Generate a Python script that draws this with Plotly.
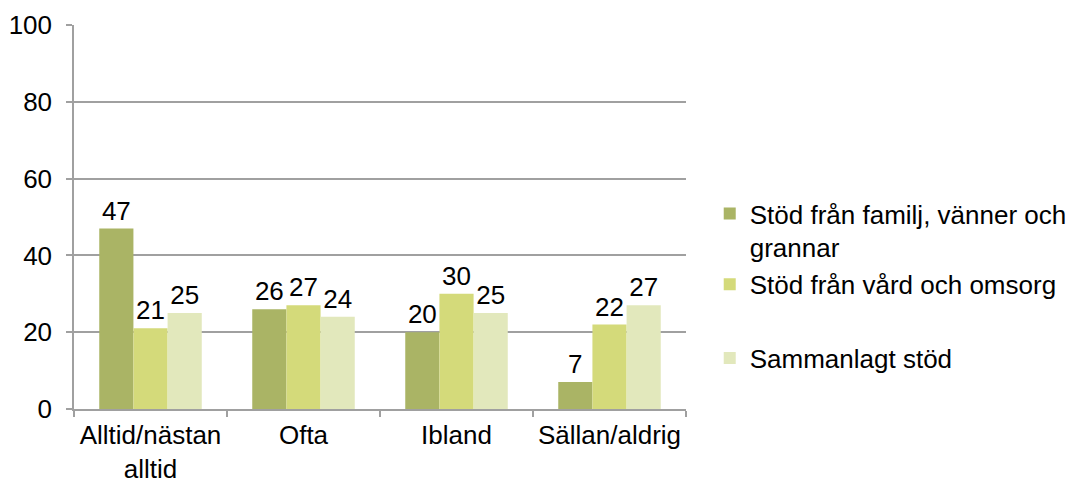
import plotly.graph_objects as go

categories = ["Alltid/nästan<br>alltid", "Ofta", "Ibland", "Sällan/aldrig"]
series_names = ["Stöd från familj, vänner och<br>grannar", "Stöd från vård och omsorg", "Sammanlagt stöd"]
familj = [47, 26, 20, 7]
vard = [21, 27, 30, 22]
sammanlagt = [25, 24, 25, 27]
colors = ["#AAB465", "#D4DA7A", "#E2E8BC"]
groups = ["a", "a", "b"]

fig = go.Figure()
for i, (name, vals) in enumerate(zip(series_names, [familj, vard, sammanlagt])):
    fig.add_trace(go.Bar(
        x=categories, y=vals, name=name,
        marker=dict(color=colors[i], line=dict(width=0)),
        text=[str(v) for v in vals], textposition="outside",
        textfont=dict(size=26, color="#000000"),
        cliponaxis=False, legendgroup=groups[i],
    ))

fig.update_layout(
    width=1076, height=479,
    margin=dict(l=74, r=390, t=25, b=70),
    paper_bgcolor="white", plot_bgcolor="white",
    font=dict(family="Liberation Sans, Arial, sans-serif", size=26, color="#000000"),
    barmode="group", bargap=0.33, bargroupgap=0,
    showlegend=True,
    legend=dict(xref="container", yref="container", x=0.6596, y=0.603,
                xanchor="left", yanchor="top",
                font=dict(size=26), valign="top", tracegroupgap=37,
                groupclick="toggleitem", itemwidth=30,
                bgcolor="rgba(0,0,0,0)"),
)
fig.update_xaxes(
    showline=True, linecolor="#A0A0A0", linewidth=1.5,
    ticks="outside", ticklen=6, tickcolor="#A0A0A0", tickwidth=1.5,
    tickson="boundaries", showgrid=False, automargin=False, tickangle=0,
    tickfont=dict(size=26), ticklabelstandoff=2,
)
fig.update_yaxes(
    range=[0, 100], dtick=20, tick0=0,
    showline=True, linecolor="#A0A0A0", linewidth=1.5,
    ticks="outside", ticklen=6, tickcolor="#A0A0A0", tickwidth=1.5,
    showgrid=True, gridcolor="#A0A0A0", gridwidth=1.5, automargin=False,
    zeroline=False, tickfont=dict(size=26), ticklabelstandoff=9,
)

fig.write_html("out.html", config={"displayModeBar": False},
               post_script="document.body.style.margin='0';document.body.style.overflow='hidden';")
